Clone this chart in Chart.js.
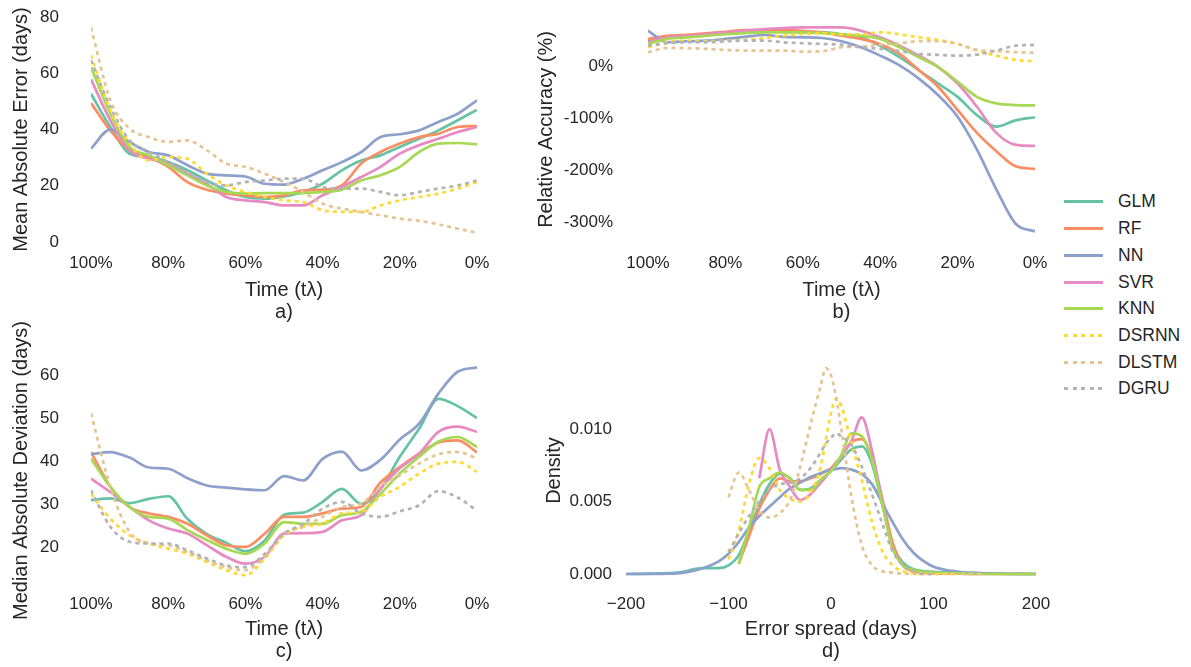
<!DOCTYPE html>
<html>
<head>
<meta charset="utf-8">
<script src="https://cdn.jsdelivr.net/npm/chart.js@4.4.0/dist/chart.umd.min.js"></script>
<style>
  html, body { margin: 0; padding: 0; background: #fff; }
  body { width: 1191px; height: 667px; position: relative; overflow: hidden;
         font-family: "Liberation Sans", Arial, sans-serif; color: #262626; }
  canvas { position: absolute; }
  #legend { position: absolute; left: 1064px; top: 188.6px; }
  .item { height: 26.7px; display: flex; align-items: center; font-size: 17.5px; }
  .swatch { width: 39px; height: 3px; margin-right: 15px; }
</style>
</head>
<body>
<canvas id="chartA" width="520" height="330" style="left:0;top:0"></canvas>
<canvas id="chartB" width="530" height="330" style="left:530px;top:0"></canvas>
<canvas id="chartC" width="520" height="367" style="left:0;top:300px"></canvas>
<canvas id="chartD" width="530" height="367" style="left:530px;top:300px"></canvas>
<div id="legend"></div>
<script>
// ---- data ----
const models = ['GLM', 'RF', 'NN', 'SVR', 'KNN', 'DSRNN', 'DLSTM', 'DGRU'];
const colors = ['#66c2a5', '#fc8d62', '#8da0cb', '#e78ac3', '#a6d854', '#ffd92f', '#e5c494', '#b3b3b3'];
const dotted = [false, false, false, false, false, true, true, true];

// time left (%) for panels a, b, c
const timePct = [100, 95, 90, 85, 80, 75, 70, 65, 60, 55, 50, 45, 40, 35, 30, 25, 20, 15, 10, 5, 0];
const timeTicks = [100, 80, 60, 40, 20, 0];

// a) mean absolute error (days)
const maeGLM   = [52.7, 40.9, 31.4, 30.2, 28.4, 25.5, 21.9, 18.4, 16.0, 15.4, 16.2, 17.8, 20.7, 25.5, 29.0, 30.8, 33.8, 36.7, 39.7, 43.3, 47.0];
const maeRF    = [49.4, 39.7, 32.6, 30.2, 26.7, 21.3, 18.6, 17.2, 16.6, 16.0, 16.6, 18.4, 18.6, 20.1, 27.9, 32.0, 35.0, 37.3, 38.5, 40.9, 41.2];
const maeNN    = [33.2, 40.0, 35.5, 32.0, 30.8, 27.3, 24.3, 23.7, 23.3, 20.7, 20.4, 22.5, 25.5, 28.4, 32.0, 37.3, 38.3, 39.7, 42.7, 45.6, 50.4];
const maeSVR   = [57.8, 43.3, 32.6, 29.6, 27.9, 24.3, 20.7, 16.0, 14.8, 14.2, 13.0, 13.0, 16.6, 19.6, 23.1, 26.7, 31.4, 34.4, 36.7, 39.1, 40.9];
const maeKNN   = [62.2, 45.6, 33.8, 30.8, 27.3, 23.7, 20.1, 17.8, 17.2, 17.4, 17.4, 17.4, 17.8, 18.6, 21.9, 23.7, 26.7, 32.0, 35.0, 35.2, 34.7];
const maeDSRNN = [66.4, 46.8, 35.0, 29.0, 30.2, 29.6, 24.3, 20.1, 17.8, 16.0, 14.8, 14.2, 11.3, 10.7, 10.7, 13.0, 14.8, 16.0, 17.2, 19.0, 21.3];
const maeDLSTM = [76.2, 50.4, 40.3, 37.3, 35.6, 36.1, 32.6, 27.9, 26.7, 24.3, 21.3, 17.8, 13.6, 11.9, 10.7, 9.5, 8.3, 7.5, 6.3, 4.7, 3.3];
const maeDGRU  = [64.6, 48.0, 36.1, 32.0, 28.4, 24.3, 21.3, 20.1, 21.3, 21.9, 22.5, 22.5, 19.6, 19.0, 19.0, 17.8, 16.6, 17.8, 19.0, 20.1, 21.9];
const maeTicks = [0, 20, 40, 60, 80];

// b) relative accuracy (%)
const accGLM   = [48.7, 55, 58, 61, 62.7, 64.6, 66.5, 66.5, 64.6, 64.6, 61, 55, 39, 17, -8, -33.5, -59, -94, -116, -104, -98];
const accRF    = [52, 58, 60, 62.7, 65.8, 69, 69, 69, 67.7, 64.6, 58, 52, 42, 23.4, -8, -40, -84, -128, -163, -192, -197];
const accNN    = [68, 45.6, 47.5, 48.7, 52, 56, 59.5, 56, 55, 53.8, 47.5, 36, 20, 1.3, -24, -56, -97, -160, -236, -302, -317];
const accSVR   = [45.6, 55, 58, 61, 64.6, 67.7, 70.9, 72.8, 74, 74, 74, 67.7, 55, 39, 20, -2, -33.5, -78, -128, -151, -153];
const accKNN   = [42.4, 52, 55, 58, 61, 63.3, 64.6, 64.6, 64.6, 63.3, 61, 58, 52, 36, 17, -2, -30, -59, -71.5, -74.7, -75.3];
const accDSRNN = [36, 45.6, 48.7, 47.5, 48.7, 50, 53.8, 58, 61, 62.7, 61, 61, 64.6, 61, 55, 50, 42.4, 29.7, 20, 12, 8.9];
const accDLSTM = [26.6, 34.8, 34.2, 33, 31, 29.7, 29.7, 29.7, 27.8, 28.5, 36, 37.3, 41, 43.7, 47.5, 47.5, 42.4, 31, 28.5, 26.6, 25.3];
const accDGRU  = [39, 43.7, 45.6, 45.6, 47.5, 48.7, 48.7, 45.6, 43.7, 42.4, 41, 36, 33, 28.5, 23.4, 21.5, 20, 22, 29.7, 39, 40.5];
const accTicks = [-300, -200, -100, 0];

// c) median absolute deviation (days)
const madGLM   = [30.9, 31.3, 30.2, 31.2, 31.8, 26.5, 23.0, 21.0, 19.0, 21.5, 27.5, 28.0, 30.5, 33.5, 30.0, 33.5, 41.0, 47.5, 54.5, 52.8, 50.0];
const madRF    = [42.1, 34.0, 29.3, 27.8, 27.0, 25.4, 22.7, 20.4, 20.0, 23.1, 27.0, 27.0, 27.8, 28.9, 29.3, 35.0, 38.6, 41.7, 44.3, 44.8, 42.0];
const madNN    = [41.6, 42.1, 40.8, 38.5, 38.2, 36.0, 34.3, 33.8, 33.4, 33.2, 36.5, 35.5, 40.5, 42.2, 37.8, 40.3, 45.0, 48.7, 55.7, 60.8, 61.8];
const madSVR   = [35.9, 32.8, 29.3, 26.2, 24.3, 23.1, 20.4, 17.7, 16.1, 17.7, 23.1, 23.2, 23.5, 26.2, 27.4, 33.6, 38.3, 41.7, 46.8, 48.0, 46.8];
const madKNN   = [40.6, 34.0, 29.3, 27.0, 26.6, 23.9, 21.6, 19.6, 18.4, 20.8, 25.8, 25.4, 25.4, 27.4, 28.2, 32.4, 37.1, 41.0, 44.5, 45.6, 43.3];
const madDSRNN = [32.4, 26.6, 22.7, 20.8, 19.6, 18.4, 16.5, 14.6, 13.4, 17.3, 22.7, 24.7, 25.4, 27.8, 28.2, 31.7, 34.0, 37.1, 39.4, 39.8, 37.5];
const madDLSTM = [51.1, 34.0, 23.5, 20.8, 20.4, 18.8, 16.9, 15.3, 14.6, 17.7, 23.1, 24.7, 27.0, 29.3, 30.1, 34.0, 36.7, 39.4, 41.6, 42.1, 40.6];
const madDGRU  = [33.2, 24.7, 21.2, 20.8, 20.8, 19.2, 17.3, 15.7, 15.3, 18.4, 23.1, 25.4, 28.9, 30.5, 27.8, 27.0, 28.3, 29.7, 33.0, 31.5, 28.4];
const madTicks = [20, 30, 40, 50, 60];

// d) density of the error spread (days)
const spreadDays = [-200, -150, -125, -110, -100, -90, -80, -70, -60, -50, -40, -30, -20, -10, -5, 0, 5, 10, 20, 30, 40, 50, 60, 70, 80, 90, 100, 125, 150, 200];
const denGLM   = [0, 0.0001, 0.0004, 0.0004, 0.0006, 0.0013, 0.0030, 0.0048, 0.0062, 0.0069, 0.0066, 0.0058, 0.0059, 0.0065, 0.0068, 0.0071, 0.0075, 0.0079, 0.0086, 0.0088, 0.0076, 0.0048, 0.0020, 0.0008, 0.00035, 0.0002, 0.00015, 0.0001, 0.00005, 0];
const denRF    = [null, null, null, null, null, 0.0007, 0.0026, 0.0045, 0.0058, 0.0066, 0.0064, 0.0064, 0.0066, 0.0069, 0.0071, 0.0073, 0.0077, 0.0081, 0.0091, 0.0093, 0.0080, 0.0052, 0.0022, 0.0006, 0.0002, 0.0001, 0.00005, 0.00002, 0, 0];
const denNN    = [0, 0.00005, 0.0004, 0.00085, 0.0014, 0.0022, 0.0032, 0.0040, 0.00465, 0.0053, 0.0059, 0.0063, 0.0067, 0.00695, 0.0071, 0.0072, 0.00725, 0.0073, 0.0072, 0.0069, 0.0062, 0.0049, 0.0036, 0.0024, 0.0015, 0.0009, 0.0005, 0.00015, 0.00005, 0];
const denSVR   = [null, null, null, null, null, null, null, 0.0066, 0.0100, 0.0072, 0.0060, 0.0051, 0.0055, 0.0063, 0.0067, 0.0072, 0.0076, 0.0081, 0.0092, 0.0108, 0.0085, 0.0050, 0.0016, null, null, null, null, null, null, null];
const denKNN   = [null, null, null, null, null, 0.0007, 0.0032, 0.0060, 0.0066, 0.0070, 0.0066, 0.0058, 0.0058, 0.0065, 0.0068, 0.0071, 0.0076, 0.0082, 0.0097, 0.0095, 0.0079, 0.0048, 0.0018, 0.0006, 0.0003, 0.00015, 0.0001, 0.00005, 0, 0];
const denDSRNN = [null, null, null, null, 0.0010, 0.0030, 0.0062, 0.0080, 0.0073, 0.0058, 0.0052, 0.0050, 0.0056, 0.0074, 0.0093, 0.0111, 0.0121, 0.0116, 0.0090, 0.0065, 0.0036, 0.0016, 0.0006, 0.0002, 0.00005, 0, 0, 0, null, null];
const denDLSTM = [null, null, null, null, 0.0053, 0.0070, 0.0058, 0.0044, 0.0039, 0.0042, 0.0051, 0.0074, 0.0103, 0.0130, 0.0142, 0.0137, 0.0122, 0.0100, 0.0053, 0.0020, 0.0006, 0.0002, 0.0001, 0.00003, 0, 0, 0, 0, 0, null];
const denDGRU  = [null, null, null, null, 0.0015, 0.0028, 0.0040, 0.0050, 0.0058, 0.0062, 0.0063, 0.0066, 0.0073, 0.0084, 0.0090, 0.0094, 0.0097, 0.0095, 0.0089, 0.0074, 0.0055, 0.0035, 0.0016, 0.0006, 0.0002, 0, 0, null, null, null];
const spreadTicks = [-200, -100, 0, 100, 200];
const densityTicks = [0, 0.005, 0.010];

// ---- helpers ----
Chart.defaults.font.family = '"Liberation Sans", Arial, sans-serif';
Chart.defaults.color = '#262626';

const tickFont = { size: 17 };
const titleFont = { size: 20, lineHeight: 1.125 };

function buildDatasets(xs, series) {
  return series.map((vals, i) => ({
    label: models[i],
    data: xs.map((x, j) => ({ x: x, y: vals[j] })),
    borderColor: colors[i],
    borderWidth: 2.7,
    borderDash: dotted[i] ? [4, 4] : [],
    pointRadius: 0,
    fill: false,
    cubicInterpolationMode: 'monotone',
    order: series.length - i
  }));
}

// box = canvas position on page, area = plot area on page, titleBottom = bottom of the x title
function makePanel(id, box, area, titleBottom, xCfg, yCfg, datasets) {
  const yW = area.left - box.left;
  const xH = titleBottom - area.bottom;
  new Chart(document.getElementById(id), {
    type: 'line',
    data: { datasets: datasets },
    options: {
      responsive: false,
      animation: false,
      devicePixelRatio: 1,
      layout: { padding: {
        left: 0,
        top: area.top - box.top,
        right: box.left + box.width - area.right,
        bottom: box.top + box.height - titleBottom
      } },
      plugins: { legend: { display: false }, tooltip: { enabled: false } },
      scales: {
        x: {
          type: 'linear',
          min: xCfg.min, max: xCfg.max, reverse: !!xCfg.reverse,
          grid: { display: false, drawTicks: false },
          border: { display: false },
          ticks: { font: tickFont, padding: 11, autoSkip: false, maxRotation: 0, callback: xCfg.fmt },
          afterBuildTicks: s => { s.ticks = xCfg.ticks.map(v => ({ value: v })); },
          afterFit: s => { s.height = xH; s.paddingLeft = 0; s.paddingRight = 0; },
          title: { display: true, text: xCfg.title, font: titleFont, padding: 0 }
        },
        y: {
          min: yCfg.min, max: yCfg.max,
          grid: { display: false, drawTicks: false },
          border: { display: false },
          ticks: { font: tickFont, padding: yCfg.pad, callback: yCfg.fmt },
          afterBuildTicks: s => { s.ticks = yCfg.ticks.map(v => ({ value: v })); },
          afterFit: s => { s.width = yW; s.paddingTop = 0; s.paddingBottom = 0; },
          title: { display: true, text: yCfg.title, font: titleFont, padding: { top: yCfg.titlePad } }
        }
      }
    }
  });
}

const pctFmt = v => v + '%';
const minusFmt = v => (v < 0 ? '\u2212' + Math.abs(v) : String(v));

// a)
makePanel('chartA', { left: 0, top: 0, width: 520, height: 330 },
  { left: 91, right: 477, top: 17, bottom: 242 }, 324,
  { min: 0, max: 100, reverse: true, ticks: timeTicks, fmt: pctFmt, title: ['Time (t\u03bb)', 'a)'] },
  { min: 0, max: 80, ticks: maeTicks, pad: 32, titlePad: 10, title: 'Mean Absolute Error (days)' },
  buildDatasets(timePct, [maeGLM, maeRF, maeNN, maeSVR, maeKNN, maeDSRNN, maeDLSTM, maeDGRU]));

// b)
makePanel('chartB', { left: 530, top: 0, width: 530, height: 330 },
  { left: 648, right: 1035, top: 17, bottom: 242 }, 324,
  { min: 0, max: 100, reverse: true, ticks: timeTicks, fmt: pctFmt, title: ['Time (t\u03bb)', 'b)'] },
  { min: -337, max: 94, ticks: accTicks, pad: 35, titlePad: 5, fmt: pctFmt, title: 'Relative Accuracy (%)' },
  buildDatasets(timePct, [accGLM, accRF, accNN, accSVR, accKNN, accDSRNN, accDLSTM, accDGRU]));

// c)
makePanel('chartC', { left: 0, top: 300, width: 520, height: 367 },
  { left: 91, right: 477, top: 358, bottom: 583 }, 663,
  { min: 0, max: 100, reverse: true, ticks: timeTicks, fmt: pctFmt, title: ['Time (t\u03bb)', 'c)'] },
  { min: 11.6, max: 64, ticks: madTicks, pad: 32, titlePad: 10.5, title: 'Median Absolute Deviation (days)' },
  buildDatasets(timePct, [madGLM, madRF, madNN, madSVR, madKNN, madDSRNN, madDLSTM, madDGRU]));

// d)
makePanel('chartD', { left: 530, top: 300, width: 530, height: 367 },
  { left: 626, right: 1036, top: 358, bottom: 583 }, 663,
  { min: -200, max: 200, ticks: spreadTicks, fmt: minusFmt, title: ['Error spread (days)', 'd)'] },
  { min: -0.00062, max: 0.0149, ticks: densityTicks, pad: 14, titlePad: 13, fmt: v => v.toFixed(3), title: 'Density' },
  buildDatasets(spreadDays, [denGLM, denRF, denNN, denSVR, denKNN, denDSRNN, denDLSTM, denDGRU]));

// shared legend
const legend = document.getElementById('legend');
models.forEach((m, i) => {
  const item = document.createElement('div');
  item.className = 'item';
  const sw = document.createElement('div');
  sw.className = 'swatch';
  sw.style.background = dotted[i]
    ? 'repeating-linear-gradient(to right, ' + colors[i] + ' 0 4px, transparent 4px 8.6px)'
    : colors[i];
  const label = document.createElement('span');
  label.textContent = m;
  item.appendChild(sw);
  item.appendChild(label);
  legend.appendChild(item);
});
</script>
</body>
</html>
